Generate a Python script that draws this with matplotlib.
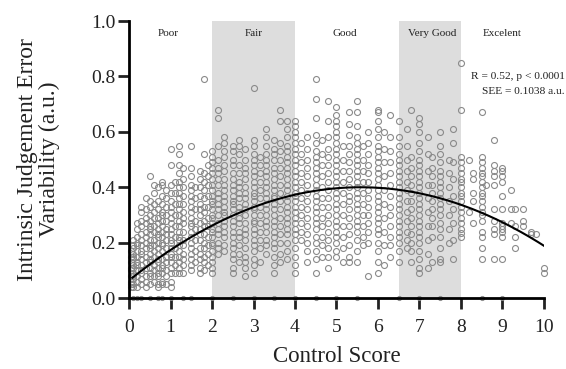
import numpy as np
import matplotlib
matplotlib.use('Agg')
import matplotlib.pyplot as plt

# control score columns and the error values sitting in each column
score_cols = [0.05, 0.1, 0.2, 0.3, 0.4, 0.5, 0.6, 0.7, 0.8, 0.9, 1.0, 1.1, 1.2, 1.3, 1.5, 1.6, 1.7, 1.8, 1.9,
              2.0, 2.15, 2.3, 2.5, 2.65, 2.8, 3.0, 3.15, 3.3, 3.5, 3.65, 3.8, 4.0,
              4.15, 4.3, 4.5, 4.65, 4.8, 5.0, 5.15, 5.3, 5.5, 5.65, 5.75, 6.0, 6.15, 6.3,
              6.5, 6.7, 6.8, 7.0, 7.2, 7.3, 7.5, 7.7, 7.8, 8.0,
              8.2, 8.3, 8.5, 8.6, 8.8, 9.0, 9.2, 9.3, 9.5, 9.7, 9.8, 10.0]
error_cols = [
    [0.04, 0.05, 0.06, 0.08, 0.10, 0.11, 0.13, 0.15, 0.17],
    [0.04, 0.05, 0.07, 0.08, 0.09, 0.11, 0.12, 0.14, 0.15, 0.16, 0.18, 0.19, 0.21],
    [0.04, 0.06, 0.08, 0.10, 0.12, 0.13, 0.15, 0.17, 0.19, 0.20, 0.22, 0.25, 0.27],
    [0.05, 0.07, 0.09, 0.10, 0.12, 0.14, 0.16, 0.17, 0.19, 0.21, 0.23, 0.26, 0.28, 0.31, 0.33],
    [0.04, 0.06, 0.08, 0.11, 0.13, 0.15, 0.18, 0.20, 0.22, 0.24, 0.27, 0.29, 0.32, 0.36],
    [0.05, 0.08, 0.09, 0.11, 0.13, 0.14, 0.16, 0.18, 0.19, 0.21, 0.23, 0.25, 0.26, 0.28, 0.30, 0.33, 0.35, 0.44],
    [0.06, 0.08, 0.10, 0.12, 0.15, 0.17, 0.19, 0.21, 0.24, 0.26, 0.29, 0.31, 0.34, 0.38, 0.41],
    [0.04, 0.05, 0.08, 0.09, 0.11, 0.13, 0.14, 0.16, 0.18, 0.20, 0.22, 0.23, 0.25, 0.27, 0.29, 0.32, 0.35, 0.40],
    [0.05, 0.06, 0.09, 0.11, 0.12, 0.14, 0.17, 0.19, 0.20, 0.22, 0.24, 0.26, 0.28, 0.30, 0.31, 0.34, 0.37, 0.41, 0.42],
    [0.05, 0.08, 0.10, 0.13, 0.15, 0.18, 0.21, 0.23, 0.25, 0.28, 0.30, 0.33, 0.36, 0.39],
    [0.04, 0.06, 0.09, 0.11, 0.13, 0.15, 0.16, 0.18, 0.20, 0.21, 0.23, 0.25, 0.27, 0.29, 0.31, 0.33, 0.35, 0.38, 0.41, 0.48, 0.54],
    [0.09, 0.12, 0.15, 0.18, 0.22, 0.26, 0.30, 0.34, 0.38, 0.42],
    [0.09, 0.11, 0.13, 0.15, 0.17, 0.19, 0.21, 0.22, 0.24, 0.26, 0.28, 0.30, 0.32, 0.34, 0.36, 0.38, 0.40, 0.42, 0.45, 0.48, 0.52, 0.55],
    [0.09, 0.12, 0.14, 0.16, 0.19, 0.21, 0.24, 0.27, 0.29, 0.31, 0.34, 0.37, 0.40, 0.43, 0.47],
    [0.10, 0.12, 0.14, 0.16, 0.18, 0.20, 0.22, 0.24, 0.26, 0.27, 0.29, 0.31, 0.33, 0.35, 0.37, 0.39, 0.41, 0.44, 0.47, 0.55],
    [0.13, 0.17, 0.21, 0.25, 0.28, 0.32, 0.36, 0.40],
    [0.09, 0.11, 0.14, 0.16, 0.18, 0.21, 0.23, 0.25, 0.27, 0.30, 0.32, 0.34, 0.37, 0.40, 0.43, 0.46],
    [0.10, 0.13, 0.15, 0.18, 0.20, 0.23, 0.26, 0.28, 0.31, 0.33, 0.36, 0.39, 0.42, 0.45, 0.52, 0.79],
    [0.12, 0.16, 0.19, 0.22, 0.26, 0.29, 0.33, 0.37, 0.41, 0.44, 0.48],
    [0.09, 0.11, 0.13, 0.15, 0.17, 0.19, 0.20, 0.22, 0.24, 0.25, 0.27, 0.29, 0.30, 0.32, 0.34, 0.35, 0.37, 0.39, 0.41, 0.43, 0.45, 0.47, 0.49, 0.51, 0.53],
    [0.16, 0.18, 0.20, 0.23, 0.25, 0.27, 0.30, 0.32, 0.34, 0.36, 0.38, 0.41, 0.43, 0.45, 0.47, 0.50, 0.55, 0.65, 0.68],
    [0.17, 0.19, 0.22, 0.24, 0.26, 0.28, 0.30, 0.31, 0.33, 0.35, 0.37, 0.39, 0.41, 0.43, 0.46, 0.48, 0.51, 0.53, 0.56, 0.58],
    [0.09, 0.11, 0.14, 0.16, 0.18, 0.20, 0.22, 0.24, 0.26, 0.28, 0.30, 0.32, 0.34, 0.35, 0.37, 0.39, 0.41, 0.43, 0.45, 0.48, 0.50, 0.53, 0.55],
    [0.13, 0.16, 0.19, 0.22, 0.24, 0.27, 0.29, 0.31, 0.33, 0.36, 0.38, 0.40, 0.42, 0.45, 0.48, 0.52, 0.55, 0.57],
    [0.08, 0.11, 0.13, 0.15, 0.18, 0.21, 0.23, 0.25, 0.27, 0.30, 0.32, 0.34, 0.36, 0.38, 0.40, 0.43, 0.45, 0.47, 0.50, 0.54],
    [0.09, 0.12, 0.14, 0.17, 0.19, 0.21, 0.23, 0.25, 0.27, 0.28, 0.30, 0.32, 0.33, 0.35, 0.37, 0.38, 0.40, 0.42, 0.44, 0.46, 0.48, 0.50, 0.52, 0.55, 0.57, 0.76],
    [0.13, 0.18, 0.21, 0.24, 0.27, 0.30, 0.33, 0.36, 0.39, 0.42, 0.45, 0.48, 0.51],
    [0.16, 0.19, 0.21, 0.24, 0.26, 0.28, 0.30, 0.32, 0.34, 0.36, 0.38, 0.40, 0.42, 0.44, 0.46, 0.48, 0.50, 0.52, 0.55, 0.58, 0.61],
    [0.09, 0.12, 0.15, 0.18, 0.20, 0.22, 0.24, 0.26, 0.28, 0.30, 0.32, 0.34, 0.36, 0.37, 0.39, 0.41, 0.43, 0.45, 0.47, 0.50, 0.52, 0.54, 0.57],
    [0.13, 0.16, 0.20, 0.23, 0.26, 0.29, 0.32, 0.35, 0.38, 0.41, 0.44, 0.47, 0.50, 0.53, 0.56, 0.64, 0.68],
    [0.14, 0.17, 0.20, 0.23, 0.25, 0.27, 0.29, 0.31, 0.33, 0.35, 0.37, 0.39, 0.41, 0.43, 0.45, 0.47, 0.49, 0.51, 0.53, 0.55, 0.58, 0.61, 0.64],
    [0.09, 0.12, 0.15, 0.18, 0.21, 0.23, 0.25, 0.27, 0.29, 0.31, 0.33, 0.35, 0.37, 0.38, 0.40, 0.42, 0.44, 0.46, 0.48, 0.50, 0.52, 0.54, 0.56, 0.58, 0.60, 0.62, 0.64],
    [0.21, 0.24, 0.27, 0.30, 0.33, 0.36, 0.39, 0.42, 0.45, 0.49, 0.52, 0.56],
    [0.13, 0.17, 0.20, 0.23, 0.26, 0.29, 0.32, 0.35, 0.38, 0.41, 0.44, 0.47, 0.50, 0.54, 0.58],
    [0.09, 0.14, 0.17, 0.20, 0.22, 0.25, 0.27, 0.29, 0.31, 0.33, 0.35, 0.37, 0.39, 0.41, 0.43, 0.45, 0.47, 0.49, 0.51, 0.53, 0.56, 0.59, 0.65, 0.72, 0.79],
    [0.15, 0.19, 0.22, 0.26, 0.29, 0.33, 0.36, 0.40, 0.44, 0.48, 0.52, 0.57],
    [0.11, 0.15, 0.18, 0.21, 0.24, 0.27, 0.30, 0.33, 0.36, 0.39, 0.42, 0.45, 0.48, 0.51, 0.54, 0.58, 0.64, 0.71],
    [0.15, 0.17, 0.20, 0.22, 0.24, 0.26, 0.28, 0.30, 0.32, 0.34, 0.36, 0.38, 0.40, 0.42, 0.44, 0.46, 0.48, 0.50, 0.52, 0.54, 0.56, 0.58, 0.60, 0.62, 0.64, 0.66, 0.69],
    [0.13, 0.18, 0.22, 0.26, 0.30, 0.34, 0.38, 0.42, 0.46, 0.50, 0.55],
    [0.13, 0.15, 0.19, 0.23, 0.26, 0.29, 0.32, 0.35, 0.37, 0.40, 0.43, 0.46, 0.49, 0.52, 0.55, 0.59, 0.63, 0.67],
    [0.13, 0.17, 0.21, 0.24, 0.26, 0.28, 0.30, 0.32, 0.34, 0.36, 0.38, 0.40, 0.42, 0.44, 0.46, 0.48, 0.50, 0.52, 0.54, 0.56, 0.58, 0.62, 0.67, 0.71],
    [0.19, 0.22, 0.26, 0.30, 0.34, 0.38, 0.42, 0.46, 0.50, 0.55],
    [0.08, 0.20, 0.24, 0.27, 0.30, 0.33, 0.36, 0.39, 0.42, 0.45, 0.48, 0.52, 0.56, 0.60],
    [0.09, 0.13, 0.17, 0.20, 0.23, 0.25, 0.27, 0.29, 0.31, 0.33, 0.35, 0.37, 0.39, 0.41, 0.43, 0.45, 0.47, 0.49, 0.51, 0.53, 0.55, 0.58, 0.61, 0.64, 0.67, 0.68],
    [0.12, 0.19, 0.24, 0.29, 0.34, 0.39, 0.44, 0.49, 0.54, 0.60],
    [0.15, 0.19, 0.22, 0.26, 0.30, 0.33, 0.37, 0.41, 0.45, 0.49, 0.53, 0.58, 0.66],
    [0.13, 0.17, 0.20, 0.22, 0.24, 0.26, 0.28, 0.30, 0.32, 0.34, 0.36, 0.38, 0.40, 0.42, 0.44, 0.46, 0.48, 0.50, 0.52, 0.55, 0.58, 0.64],
    [0.18, 0.21, 0.24, 0.28, 0.31, 0.35, 0.39, 0.42, 0.46, 0.50, 0.55, 0.61],
    [0.13, 0.17, 0.20, 0.23, 0.26, 0.29, 0.32, 0.35, 0.38, 0.41, 0.44, 0.47, 0.51, 0.68],
    [0.09, 0.11, 0.14, 0.17, 0.20, 0.22, 0.24, 0.26, 0.28, 0.30, 0.32, 0.34, 0.36, 0.38, 0.40, 0.42, 0.44, 0.46, 0.48, 0.50, 0.53, 0.56, 0.60, 0.63, 0.65],
    [0.11, 0.16, 0.21, 0.26, 0.31, 0.36, 0.41, 0.46, 0.52, 0.58],
    [0.13, 0.22, 0.26, 0.29, 0.32, 0.35, 0.38, 0.41, 0.44, 0.47, 0.51],
    [0.13, 0.14, 0.18, 0.22, 0.25, 0.27, 0.30, 0.32, 0.34, 0.36, 0.38, 0.40, 0.42, 0.44, 0.46, 0.49, 0.52, 0.55, 0.60],
    [0.20, 0.25, 0.30, 0.35, 0.40, 0.45, 0.50],
    [0.14, 0.21, 0.27, 0.32, 0.37, 0.43, 0.49, 0.56, 0.61],
    [0.22, 0.235, 0.25, 0.27, 0.29, 0.31, 0.33, 0.35, 0.37, 0.38, 0.40, 0.42, 0.43, 0.45, 0.47, 0.49, 0.51, 0.68, 0.85],
    [0.31, 0.50],
    [0.27, 0.35, 0.38, 0.43, 0.45],
    [0.14, 0.18, 0.22, 0.24, 0.28, 0.30, 0.31, 0.33, 0.35, 0.37, 0.38, 0.40, 0.42, 0.44, 0.45, 0.47, 0.49, 0.51, 0.67],
    [0.41],
    [0.14, 0.23, 0.25, 0.28, 0.32, 0.41, 0.44, 0.46, 0.48, 0.57],
    [0.14, 0.22, 0.24, 0.25, 0.26, 0.27, 0.32, 0.37, 0.42, 0.44, 0.46, 0.47],
    [0.27, 0.32, 0.39],
    [0.18, 0.22, 0.26, 0.32],
    [0.26, 0.28, 0.32],
    [0.23, 0.24],
    [0.23],
    [0.09, 0.11],
]
# subjects with zero variability (sit on the x axis)
zero_scores = [0.1, 0.2, 0.3, 0.5, 0.7, 0.8, 1.0, 1.3, 1.5, 2.0, 2.5, 3.0, 3.5, 4.0,
               4.5, 5.0, 5.5, 6.5, 7.0, 7.5, 8.5, 9.0]

# quadratic fit (c0 + c1*x + c2*x^2)
fit_coef = [0.0641, 0.1205, -0.0108]
fit_range = [0.08, 10.0]

bands = [(2, 4), (6.5, 8)]
band_labels = ['Poor', 'Fair', 'Good', 'Very Good', 'Excelent']
band_label_x = [0.95, 3.0, 5.2, 7.3, 9.0]

plt.rcParams['font.family'] = ['Liberation Serif', 'DejaVu Serif']

fig = plt.figure(figsize=(5.66, 3.69), dpi=100)
ax = fig.add_axes([0.228, 0.192, 0.733, 0.751])

for lo, hi in bands:
    ax.axvspan(lo, hi, ymin=0, ymax=1, color='#dddddd', lw=0, zorder=0)

xs = np.concatenate([np.full(len(v), s) for s, v in zip(score_cols, error_cols)])
ys = np.concatenate([np.array(v, dtype=float) for v in error_cols])
ax.plot(xs, ys, 'o', ms=4.3, mfc='none', mec='#8a8a8a', mew=0.8, zorder=2, clip_on=False)
ax.plot(zero_scores, np.zeros(len(zero_scores)), 'o', ms=3, mfc='none', mec='#8a8a8a',
        mew=0.7, zorder=2, clip_on=False)

xf = np.linspace(fit_range[0], fit_range[1], 200)
yf = fit_coef[0] + fit_coef[1] * xf + fit_coef[2] * xf ** 2
ax.plot(xf, yf, color='black', lw=1.5, zorder=3)

for lab, lx in zip(band_labels, band_label_x):
    ax.text(lx, 0.955, lab, ha='center', va='center', fontsize=8, color='#222222')

ax.text(10.5, 0.80, 'R = 0.52, p < 0.0001', ha='right', va='center', fontsize=8.2, color='#222222')
ax.text(10.5, 0.747, 'SEE = 0.1038 a.u.', ha='right', va='center', fontsize=8.2, color='#222222')

ax.set_xlim(0, 10)
ax.set_ylim(0, 1.0)
ax.set_xticks(range(0, 11))
ax.set_yticks([0, 0.2, 0.4, 0.6, 0.8, 1.0])
ax.set_yticklabels(['0.0', '0.2', '0.4', '0.6', '0.8', '1.0'])
for side in ['top', 'right']:
    ax.spines[side].set_visible(False)
for side in ['left', 'bottom']:
    ax.spines[side].set_linewidth(2)
    ax.spines[side].set_zorder(4)
ax.tick_params(axis='both', direction='out', length=8, width=2, labelsize=14, colors='#222222')
ax.tick_params(axis='y', pad=2)
ax.tick_params(axis='x', pad=7)

ax.set_xlabel('Control Score', fontsize=16.5, color='#222222', labelpad=7)
ax.set_ylabel('Intrinsic Judgement Error\nVariability (a.u.)', fontsize=17, color='#222222',
              linespacing=1.05, labelpad=22)

fig.savefig('out.png', dpi=100)
